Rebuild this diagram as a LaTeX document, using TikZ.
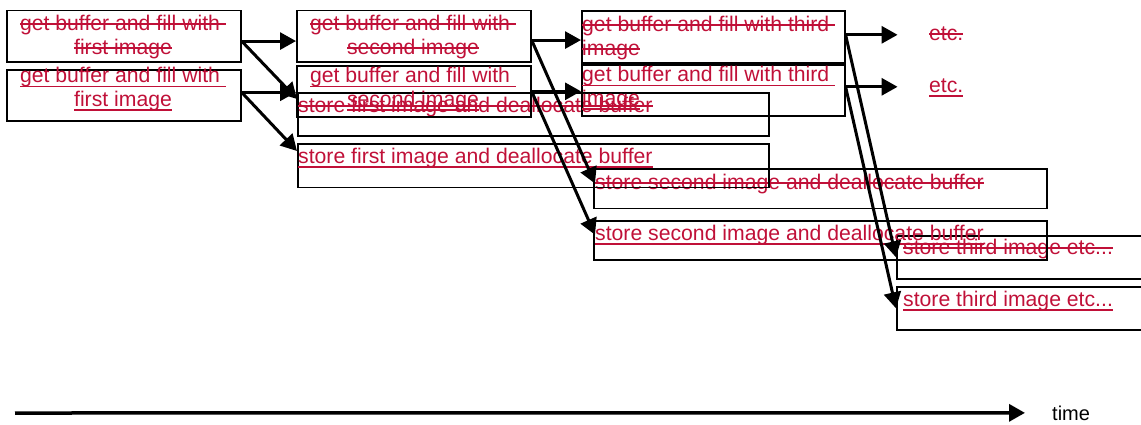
\documentclass[tikz,border=0pt]{standalone}
\usepackage{fontspec}
\setmainfont{Liberation Sans}
\usetikzlibrary{arrows.meta,calc}
\definecolor{revred}{RGB}{192,16,56}
\newsavebox{\revbox}
\newcommand{\deltxt}[1]{\sbox{\revbox}{#1}\rlap{\rule[5.5pt]{\wd\revbox}{1.6pt}}\usebox{\revbox}}
\newcommand{\instxt}[1]{\sbox{\revbox}{#1}\rlap{\rule[-4.8pt]{\wd\revbox}{1.6pt}}\usebox{\revbox}}

\begin{document}
\begin{tikzpicture}[x=1pt,y=-1pt,
  box/.style={draw,line width=1.6pt,inner sep=0,anchor=north west},
  txt/.style={inner sep=0,text=revred,font=\fontsize{21.2pt}{23.5pt}\selectfont},
  arr/.style={line width=3pt,-{Triangle[length=16pt,width=17pt]}}]
\clip (0,0) rectangle (1141,424);
% old version, struck out
\node[box,minimum width=234pt,minimum height=51.5pt] (a1) at (6,9.5) {};
\node[box,minimum width=234pt,minimum height=51.5pt] (b1) at (296,9.5) {};
\node[box,minimum width=263pt,minimum height=52pt] (c1) at (581,10) {};
\node[box,minimum width=471pt,minimum height=43pt] (d1) at (297,92) {};
\node[box,minimum width=453pt,minimum height=39.5pt] (e1) at (593,168) {};
\node[box,minimum width=260pt,minimum height=43pt] (f1) at (896,235) {};
\node[txt,align=center,anchor=base] (a1t) at (123,54) {\deltxt{get buffer and fill with\ }\\\deltxt{first image}};
\node[txt,align=center,anchor=base] (b1t) at (413,54) {\deltxt{get buffer and fill with\ }\\\deltxt{second image}};
\node[txt,align=left,anchor=base west] (c1t) at (582,55) {\deltxt{get buffer and fill with third\ }\\\deltxt{image}};
\node[txt,anchor=base west] (etc1) at (929,40) {\deltxt{etc.}};
\node[txt,anchor=base west] (d1t) at (298,112) {\deltxt{store first image and deallocate buffer}};
\node[txt,anchor=base west] (e1t) at (595,189) {\deltxt{store second image and deallocate buffer}};
\node[txt,anchor=base west] (f1t) at (903,254) {\deltxt{store third image etc...}};
% new version, underlined
\node[box,minimum width=234pt,minimum height=51pt] (a2) at (6,69) {};
\node[box,minimum width=234pt,minimum height=51pt] (b2) at (296,65) {};
\node[box,minimum width=263pt,minimum height=51pt] (c2) at (581,64) {};
\node[box,minimum width=471pt,minimum height=43.5pt] (d2) at (297,143) {};
\node[box,minimum width=453pt,minimum height=39pt] (e2) at (593,220) {};
\node[box,minimum width=260pt,minimum height=43pt] (f2) at (896,286) {};
\node[txt,align=center,anchor=base] (a2t) at (123,106) {\instxt{get buffer and fill with\ }\\\instxt{first image}};
\node[txt,align=center,anchor=base] (b2t) at (413,106) {\instxt{get buffer and fill with\ }\\\instxt{second image}};
\node[txt,align=left,anchor=base west] (c2t) at (582,105) {\instxt{get buffer and fill with third\ }\\\instxt{image}};
\node[txt,anchor=base west] (etc2) at (929,92) {\instxt{etc.}};
\node[txt,anchor=base west] (d2t) at (298,163) {\instxt{store first image and deallocate buffer}};
\node[txt,anchor=base west] (e2t) at (595,240) {\instxt{store second image and deallocate buffer}};
\node[txt,anchor=base west] (f2t) at (903,306) {\instxt{store third image etc...}};
% arrows
\coordinate (a1o) at ([yshift=-5pt]a1.east);
\coordinate (a2o) at ([yshift=3pt]a2.east);
\coordinate (b1o) at ([yshift=-4pt]b1.east);
\coordinate (b2o) at (b2.east);
\coordinate (c1o) at ([yshift=2pt]c1.east);
\coordinate (c2o) at ([yshift=3.5pt]c2.east);
\draw[arr] (a1o) -- (b1.west |- a1o);
\draw[arr] (a1o) -- ([yshift=-7pt]d1.north west);
\draw[arr] (a2o) -- (b2.west |- a2o);
\draw[arr] (a2o) -- ([yshift=-8pt]d2.north west);
\draw[arr] (b1o) -- (c1.west |- b1o);
\draw[arr] (b1o) -- (e1t.west);
\draw[arr] (b2o) -- (c2.west |- b2o);
\draw[arr] (b2o) -- (e2t.west);
\draw[arr] (c1o) -- ++(52,0);
\draw[arr] (c1o) -- (f1.west);
\draw[arr] (c2o) -- ++(52,0);
\draw[arr] (c2o) -- (f2.west);
% time axis
\node[anchor=base west,inner sep=0,font=\fontsize{20pt}{23pt}\selectfont] (time) at (1052,420) {time};
\coordinate (t0) at (15,413);
\draw[arr,line width=3.5pt] (t0) -- ([xshift=-27pt]time.west);
\end{tikzpicture}
\end{document}
